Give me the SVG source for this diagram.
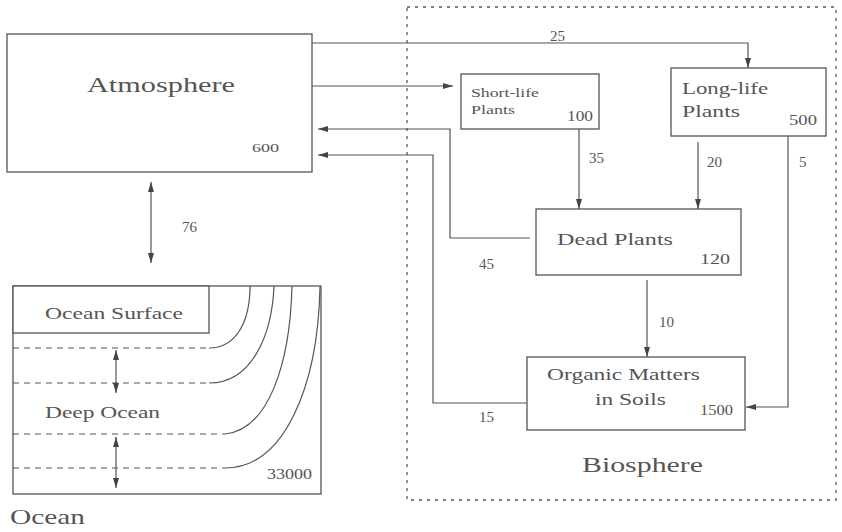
<svg xmlns="http://www.w3.org/2000/svg" width="842" height="532" viewBox="0 0 842 532">
<defs>
<marker id="ah" viewBox="0 0 10 6" refX="10" refY="3" markerWidth="10" markerHeight="6" markerUnits="userSpaceOnUse" orient="auto-start-reverse">
<path d="M0,0 L10,3 L0,6 Z" fill="#444"/>
</marker>
<style>
.box{fill:#fff;stroke:#555;stroke-width:1.3}
.ln{fill:none;stroke:#555;stroke-width:1.2}
.dash{fill:none;stroke:#555;stroke-width:1.2;stroke-dasharray:6,5}
.t{font-family:"Liberation Serif",serif;fill:#555}
.n{font-family:"Liberation Serif",serif;fill:#555;font-size:15px}
</style>
</defs>
<rect width="842" height="532" fill="#fff"/>

<g id="biosphere">
<rect x="407" y="7" width="429" height="493" fill="none" stroke="#555" stroke-width="1.3" stroke-dasharray="3,5"/>
<text class="t" x="582" y="472" font-size="21" textLength="121" lengthAdjust="spacingAndGlyphs">Biosphere</text>
</g>

<g id="atmosphere">
<rect class="box" x="7" y="34" width="305" height="138"/>
<text class="t" x="87" y="92" font-size="20" textLength="148" lengthAdjust="spacingAndGlyphs">Atmosphere</text>
<text class="t" x="252" y="152" font-size="12" textLength="27" lengthAdjust="spacingAndGlyphs">600</text>
</g>

<g id="short-life">
<rect class="box" x="461" y="74" width="138" height="55"/>
<text class="t" x="471" y="97" font-size="13" textLength="68" lengthAdjust="spacingAndGlyphs">Short-life</text>
<text class="t" x="471" y="114" font-size="13" textLength="44" lengthAdjust="spacingAndGlyphs">Plants</text>
<text class="t" x="567" y="121" font-size="14" textLength="26" lengthAdjust="spacingAndGlyphs">100</text>
</g>

<g id="long-life">
<rect class="box" x="671" y="68" width="155" height="68"/>
<text class="t" x="682" y="94" font-size="16" textLength="86" lengthAdjust="spacingAndGlyphs">Long-life</text>
<text class="t" x="682" y="117" font-size="16" textLength="58" lengthAdjust="spacingAndGlyphs">Plants</text>
<text class="t" x="789" y="125" font-size="15" textLength="28" lengthAdjust="spacingAndGlyphs">500</text>
</g>

<g id="dead-plants">
<rect class="box" x="536" y="209" width="205" height="66"/>
<text class="t" x="557" y="245" font-size="17" textLength="116" lengthAdjust="spacingAndGlyphs">Dead Plants</text>
<text class="t" x="700" y="264" font-size="15" textLength="30" lengthAdjust="spacingAndGlyphs">120</text>
</g>

<g id="organic">
<rect class="box" x="527" y="357" width="218" height="73"/>
<text class="t" x="547" y="380" font-size="17" textLength="153" lengthAdjust="spacingAndGlyphs">Organic Matters</text>
<text class="t" x="595" y="405" font-size="17" textLength="71" lengthAdjust="spacingAndGlyphs">in Soils</text>
<text class="t" x="700" y="415" font-size="14" textLength="33" lengthAdjust="spacingAndGlyphs">1500</text>
</g>

<g id="ocean">
<rect class="box" x="13" y="286" width="308" height="208"/>
<rect class="box" x="13" y="286" width="196" height="47"/>
<text class="t" x="45" y="319" font-size="16" textLength="138" lengthAdjust="spacingAndGlyphs">Ocean Surface</text>
<path class="dash" d="M13,348 H209"/>
<path class="dash" d="M13,383 H209"/>
<path class="dash" d="M13,434 H225"/>
<path class="dash" d="M13,468 H225"/>
<path class="ln" d="M209,348 C236,348 250,322 250,286"/>
<path class="ln" d="M209,383 C252,383 272,335 274,286"/>
<path class="ln" d="M225,434 C268,430 290,365 292,286"/>
<path class="ln" d="M225,468 C285,468 318,385 320,287"/>
<path class="ln" d="M116,350 V393" marker-start="url(#ah)" marker-end="url(#ah)"/>
<path class="ln" d="M116,437 V488" marker-start="url(#ah)" marker-end="url(#ah)"/>
<text class="t" x="45" y="418" font-size="16" textLength="115" lengthAdjust="spacingAndGlyphs">Deep Ocean</text>
<text class="t" x="267" y="479" font-size="14" textLength="45" lengthAdjust="spacingAndGlyphs">33000</text>
<text class="t" x="10" y="524" font-size="22" textLength="75" lengthAdjust="spacingAndGlyphs">Ocean</text>
</g>

<g id="connectors">
<path class="ln" d="M312,43 H748 V68" marker-end="url(#ah)"/>
<path class="ln" d="M312,86 H453" marker-end="url(#ah)"/>
<path class="ln" d="M530,238 H450 V129 H318" marker-end="url(#ah)"/>
<path class="ln" d="M527,403 H433 V155 H318" marker-end="url(#ah)"/>
<path class="ln" d="M579,129 V209" marker-end="url(#ah)"/>
<path class="ln" d="M698,142 V209" marker-end="url(#ah)"/>
<path class="ln" d="M788,136 V407 H746" marker-end="url(#ah)"/>
<path class="ln" d="M647,280 V357" marker-end="url(#ah)"/>
<path class="ln" d="M151,182 V263" marker-start="url(#ah)" marker-end="url(#ah)"/>
<text class="n" x="550" y="41">25</text>
<text class="n" x="589" y="163">35</text>
<text class="n" x="707" y="167">20</text>
<text class="n" x="799" y="167">5</text>
<text class="n" x="479" y="269">45</text>
<text class="n" x="659" y="327">10</text>
<text class="n" x="479" y="422">15</text>
<text class="n" x="182" y="232">76</text>
</g>
</svg>
